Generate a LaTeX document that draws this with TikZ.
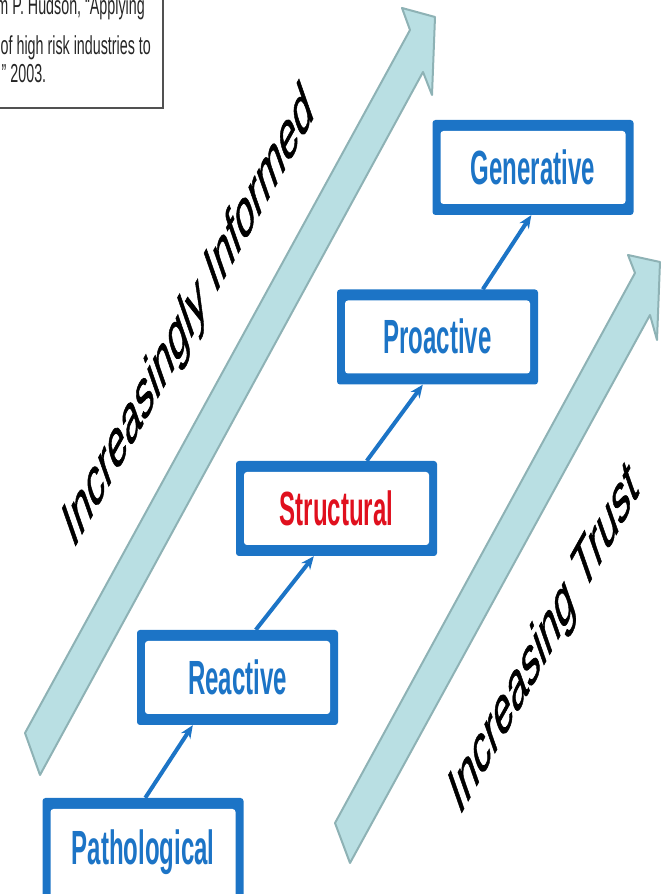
\documentclass[tikz,border=0pt]{standalone}
\usepackage{fontspec}
\setmainfont{Liberation Sans}
\newfontfamily\boxfont[FakeStretch=0.5]{Liberation Sans}
\newfontfamily\citefont[FakeStretch=0.55]{Liberation Sans}
\newfontfamily\rotfont[FakeBold=1.2]{Liberation Sans}
\usetikzlibrary{arrows.meta,calc}
\definecolor{boxblue}{HTML}{1C74C6}
\definecolor{stepred}{HTML}{E0101E}
\definecolor{arrowfill}{HTML}{B9DFE3}
\definecolor{arrowedge}{HTML}{8EB2B5}
\definecolor{citegray}{HTML}{262626}
\begin{document}
\begin{tikzpicture}[x=1pt,y=1pt,
  stage/.style={rectangle, rounded corners=3pt, fill=boxblue, minimum width=201pt,
    minimum height=95pt, inner sep=0pt, text height=34pt, text depth=0pt, text=boxblue,
    font=\boxfont\bfseries\fontsize{48}{48}\selectfont,
    path picture={\fill[white] ([xshift=8pt,yshift=-11pt]path picture bounding box.north west)
      rectangle ([xshift=-8pt,yshift=11pt]path picture bounding box.south east);}},
  link/.style={draw=boxblue, line width=4pt, -{Stealth[length=13pt,width=11pt]}},
  bigarrow/.style={fill=arrowfill, draw=arrowedge, line width=2pt, line join=round},
  slanttext/.style={transform shape, cm={0.486,0.874,-0.372,1.06,(0,0)}, anchor=base,
    inner sep=0pt, font=\rotfont\fontsize{52}{52}\selectfont},
  citetext/.style={inner sep=0pt, text=citegray, font=\citefont\fontsize{26}{26}\selectfont}]
\useasboundingbox (0,0) rectangle (666,894);
\clip (0,0) rectangle (666,894);

% citation box
\draw[citegray!80, line width=1.2pt] (-5,786) -| (163,900);
\node[citetext, anchor=base east] (cite1) at (145,879) {m P. Hudson, “Applying};
\node[citetext, anchor=base west] (cite2) at (0.5,839) {of high risk industries to};
\node[citetext, anchor=base west] (cite3) at (1.5,811) {” 2003.};

% big arrows
\filldraw[bigarrow] (25,161) -- (410,864) -- (402,886) -- (435,877) -- (432,799) -- (423,822) -- (40,119) -- cycle;
\filldraw[bigarrow] (335,71) -- (635,621) -- (628,639) -- (660,632) -- (657,554) -- (650,579) -- (350,31) -- cycle;

% slanted labels
\begin{scope}[shift={(194,561)}]
\node[slanttext] (informed) at (0,0) {Increasingly Informed};
\end{scope}
\begin{scope}[shift={(549.5,239)}]
\node[slanttext] (trust) at (0,0) {Increasing Trust};
\end{scope}

% stages
\node[stage] (gen) at (533,726.5) {Generative};
\node[stage] (pro) at (437.5,557) {Proactive};
\node[stage, text=stepred] (str) at (336.5,385.5) {Structural};
\node[stage] (rea) at (237.5,216.5) {Reactive};
\node[stage, minimum height=100pt,
  path picture={\fill[white] ([xshift=8pt,yshift=-11pt]path picture bounding box.north west)
      rectangle ([xshift=-8pt,yshift=-3pt]path picture bounding box.south east);}]
  (pat) at (143,46) {Pathological};

% connectors
\draw[link] ([xshift=103pt]pat.north west) -- ([xshift=56pt]rea.south west);
\draw[link] ([xshift=119pt]rea.north west) -- ([xshift=78pt]str.south west);
\draw[link] ([xshift=131pt]str.north west) -- ([xshift=86pt]pro.south west);
\draw[link] ([xshift=146pt]pro.north west) -- ([xshift=99pt]gen.south west);
\end{tikzpicture}
\end{document}
